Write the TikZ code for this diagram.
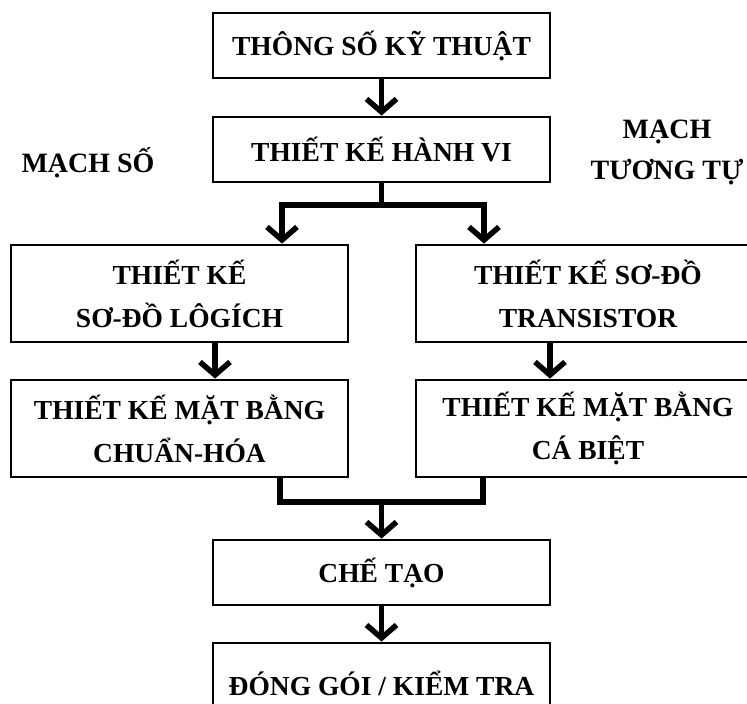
\documentclass[tikz,border=0pt]{standalone}
\usepackage{fontspec}
\setmainfont{Liberation Serif}
\usetikzlibrary{arrows.meta,calc}

\begin{document}
\begin{tikzpicture}[
  x=1pt, y=-1pt,
  stepbox/.style={draw, line width=2.8pt, align=center, minimum width=337pt, minimum height=65pt, inner sep=0pt, font=\fontsize{27.5}{43}\selectfont\bfseries},
  tallbox/.style={stepbox, minimum height=97pt},
  side/.style={align=center, font=\fontsize{28}{41}\selectfont\bfseries},
  arr/.style={-{Straight Barb[length=13pt,width=30pt]}, line width=5.5pt},
  link/.style={line width=5.5pt, line join=miter}
]
\useasboundingbox (0,0) rectangle (747,704);
\clip (0,0) rectangle (747,704);
% main column
\node[stepbox] (spec) at (381.5,45.5) {THÔNG SỐ KỸ THUẬT};
\node[stepbox] (beh) at (381.5,149.5) {THIẾT KẾ HÀNH VI};
% two branches
\node[tallbox] (logic) at (179.5,293.5) {THIẾT KẾ\\SƠ-ĐỒ LÔGÍCH};
\node[tallbox, minimum width=344pt] (trans) at (588,293.5) {THIẾT KẾ SƠ-ĐỒ\\TRANSISTOR};
\node[tallbox] (stdlay) at (179.5,428.5) {THIẾT KẾ MẶT BẰNG\\CHUẨN-HÓA};
\node[tallbox, minimum width=344pt] (custlay) at (588,428.5) {THIẾT KẾ MẶT BẰNG\\CÁ BIỆT};
% back end
\node[stepbox] (fab) at (381.5,572.5) {CHẾ TẠO};
\node[stepbox, minimum height=80pt] (pack) at (381.5,683) {ĐÓNG GÓI / KIỂM TRA};
% side labels
\node[side] (digital) at (88,163) {MẠCH SỐ};
\node[side] (analog) at (667,152) {MẠCH\\TƯƠNG TỰ};
% fork and join points
\coordinate (fork) at (381.5,205);
\coordinate (forkL) at (282,205);
\coordinate (forkR) at (484,205);
\coordinate (joinL) at (280,502);
\coordinate (joinR) at (483,502);
\coordinate (join) at (381.5,502);
% flow
\draw[arr] (spec) -- (beh);
\draw[link] (beh.south) -- (fork);
\draw[arr] (fork) -- (forkL) -- (forkL |- logic.north);
\draw[arr] (fork) -- (forkR) -- (forkR |- trans.north);
\draw[arr] ([xshift=35.5pt]logic.south) -- ([xshift=35.5pt]stdlay.north);
\draw[arr] ([xshift=-38pt]trans.south) -- ([xshift=-38pt]custlay.north);
\draw[link] (joinL |- stdlay.south) -- (joinL) -- (joinR) -- (joinR |- custlay.south);
\draw[arr] (join) -- (fab);
\draw[arr] (fab) -- (pack);
\end{tikzpicture}
\end{document}
